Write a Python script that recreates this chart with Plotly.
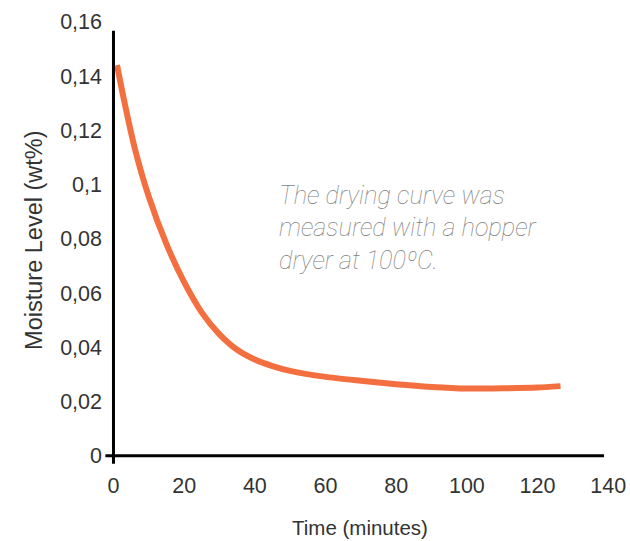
import plotly.graph_objects as go

# Data
time_min = [1, 3, 6, 10, 15, 20, 25, 30, 35, 40, 45, 50, 60, 70, 80, 90, 100, 110, 120, 126.5]
moisture = [0.1440, 0.131, 0.1135, 0.0955, 0.0780, 0.0640, 0.0528, 0.0448, 0.0391, 0.0355,
            0.0331, 0.0313, 0.0291, 0.0277, 0.0264, 0.0254, 0.0248, 0.0249, 0.0252, 0.0257]
x_ticks = [0, 20, 40, 60, 80, 100, 120, 140]
y_ticks = [0, 0.02, 0.04, 0.06, 0.08, 0.10, 0.12, 0.14, 0.16]
note_lines = ["The drying curve was", "measured with a hopper", "dryer at 100ºC."]
x_title = "Time (minutes)"
y_title = "Moisture Level (wt%)"

LINE_COLOR = "#F36F3F"
TEXT_COLOR = "#333333"
FONT = "Liberation Sans, Arial, sans-serif"

fig = go.Figure()
fig.add_trace(go.Scatter(
    x=time_min, y=moisture, mode="lines",
    line=dict(color=LINE_COLOR, width=6, shape="spline", smoothing=0.6),
    hoverinfo="skip", showlegend=False,
))

# Axis lines (crossing at the origin, extending slightly past it)
fig.add_shape(type="line", x0=0, x1=0, y0=-0.0029, y1=0.1567,
              line=dict(color="black", width=3), layer="above")
fig.add_shape(type="line", x0=-2.3, x1=138.8, y0=0, y1=0,
              line=dict(color="black", width=3), layer="above")

for i, t in enumerate(note_lines):
    fig.add_annotation(
        x=46.2, y=[0.0961, 0.0840, 0.0721][i], xref="x", yref="y",
        text=t, showarrow=False, xanchor="left", yanchor="middle",
        font=dict(family="Roboto", size=25.3, color="#7E7E7E", style="italic", weight=100),
    )

fig.add_annotation(x=0.505, y=-0.1416, xref="paper", yref="paper", text=x_title,
                   showarrow=False, xanchor="center", yanchor="middle",
                   font=dict(family=FONT, size=20.5, color=TEXT_COLOR))
fig.add_annotation(x=-0.142, y=0.502, xref="paper", yref="paper", text=y_title,
                   showarrow=False, xanchor="center", yanchor="middle", textangle=-90,
                   font=dict(family=FONT, size=23.5, color=TEXT_COLOR))

fig.update_layout(
    width=630, height=541,
    margin=dict(l=105, r=20, t=19, b=77),
    paper_bgcolor="white", plot_bgcolor="white",
    separators=",.",
    font=dict(family=FONT, color=TEXT_COLOR, size=21.5),
)
fig.update_xaxes(range=[-2.4, 140.5], tickvals=x_ticks, showgrid=False, zeroline=False,
                 showline=False, ticks="", ticklabelstandoff=6, automargin=False,
                 tickfont=dict(family=FONT, size=21.5, color=TEXT_COLOR))
fig.update_yaxes(range=[-0.0030, 0.161], tickvals=y_ticks, showgrid=False, zeroline=False,
                 showline=False, ticks="", ticklabelstandoff=2, automargin=False,
                 tickfont=dict(family=FONT, size=21.5, color=TEXT_COLOR))

fig.write_html("out.html", config={"displayModeBar": False},
               post_script="document.body.style.margin='0';document.body.style.overflow='hidden';")
